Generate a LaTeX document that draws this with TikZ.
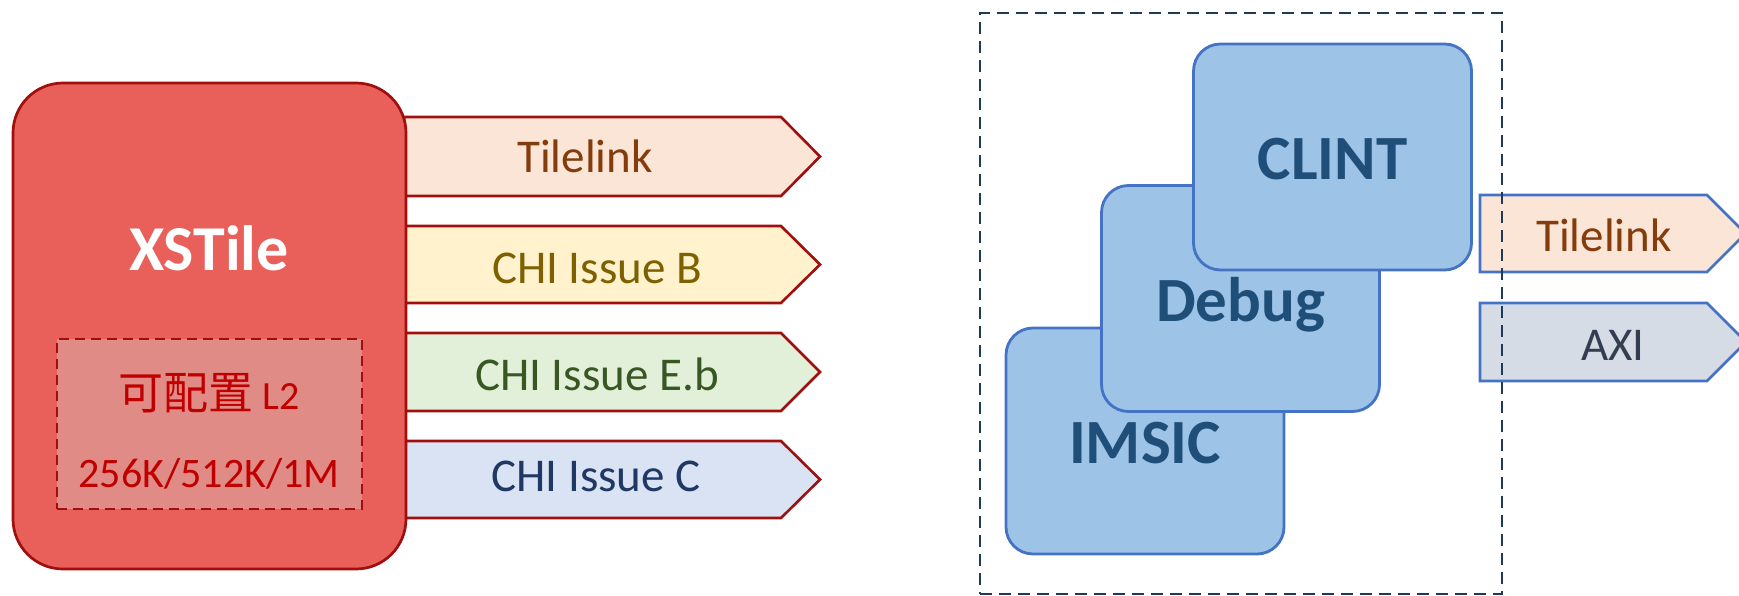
\documentclass[tikz,border=0pt]{standalone}
\usepackage{fontspec}
\setmainfont{Carlito}
\newfontfamily\cjk{Noto Sans CJK SC}
\usetikzlibrary{positioning}

\definecolor{xsfill}{HTML}{E9605B}
\definecolor{xsline}{HTML}{A10E0E}
\definecolor{l2fill}{HTML}{E08B86}
\definecolor{l2text}{HTML}{C00000}
\definecolor{tlfill}{HTML}{FBE5D6}
\definecolor{tltext}{HTML}{843C0C}
\definecolor{bfill}{HTML}{FFF2CC}
\definecolor{btext}{HTML}{7F6000}
\definecolor{ebfill}{HTML}{E2F0D9}
\definecolor{ebtext}{HTML}{385723}
\definecolor{cfill}{HTML}{DAE3F3}
\definecolor{ctext}{HTML}{203864}
\definecolor{blkfill}{HTML}{9DC3E6}
\definecolor{blkline}{HTML}{4472C4}
\definecolor{blktext}{HTML}{1F4E79}
\definecolor{axifill}{HTML}{D6DCE5}
\definecolor{axitext}{HTML}{333F50}
\definecolor{frameline}{HTML}{203A55}

\begin{document}
\begin{tikzpicture}[x=1pt, y=-1pt,
  tile/.style={draw=xsline, fill=xsfill, line width=2.7pt, rounded corners=50pt,
               minimum width=393pt, minimum height=486pt, inner sep=0pt},
  l2box/.style={draw=xsline, fill=l2fill, line width=2.6pt, dash pattern=on 10pt off 6pt,
                minimum width=305pt, minimum height=170pt, inner sep=0pt},
  redbus/.style={draw=xsline, line width=2.6pt, line join=miter},
  bluebus/.style={draw=blkline, line width=2.6pt, line join=miter},
  blk/.style={draw=blkline, fill=blkfill, line width=2.8pt, rounded corners=27pt,
              minimum width=278pt, minimum height=226pt, inner sep=0pt,
              text=blktext, font=\fontsize{63}{70}\selectfont\bfseries,
              text height=45pt, text depth=0pt},
  buslbl/.style={anchor=base, inner sep=0pt, font=\fontsize{47}{56}\selectfont}
]
\useasboundingbox (0,0) rectangle (1739,596);

% buses leaving the tile (drawn first, the tile covers their left ends)
\draw[redbus, fill=tlfill] (404,117) -- (781,117) -- (820,156.5) -- (781,196) -- (404,196) -- cycle;
\draw[redbus, fill=bfill] (404,226) -- (781,226) -- (820,264.5) -- (781,303) -- (404,303) -- cycle;
\draw[redbus, fill=ebfill] (404,333) -- (781,333) -- (820,372) -- (781,411) -- (404,411) -- cycle;
\draw[redbus, fill=cfill] (404,441) -- (781,441) -- (820,479.5) -- (781,518) -- (404,518) -- cycle;
\node[buslbl, text=tltext] (tl) at (585,173) {Tilelink};
\node[buslbl, text=btext] (chib) at (597,283) {CHI Issue B};
\node[buslbl, text=ebtext] (chieb) at (597,390) {CHI Issue E.b};
\node[buslbl, text=ctext] (chic) at (596,491) {CHI Issue C};

% the tile and its L2
\node[tile] (xstile) at (209.5,326) {};
\node[anchor=base, inner sep=0pt, text=white, font=\fontsize{64}{70}\selectfont\bfseries]
  (xstilelbl) at (209,270) {XSTile};
\node[l2box] (l2) at (209.5,424) {};
\node[anchor=base, inner sep=0pt, text=l2text, font=\fontsize{40}{48}\selectfont]
  (l2lbl) at (209,409) {{\cjk\fontsize{45}{50}\selectfont 可配置} L2};
\node[anchor=base, inner sep=0pt, text=l2text, font=\fontsize{42}{50}\selectfont]
  (l2size) at (209,487) {256K/512K/1M};

% uncore blocks
\node[blk] (imsic) at (1145,441) {IMSIC};
\node[blk] (debug) at (1240.5,298.5) {Debug};
\node[blk] (clint) at (1332.5,157) {CLINT};

\draw[bluebus, fill=tlfill] (1480,195) -- (1707,195) -- (1745.5,233.5) -- (1707,272) -- (1480,272) -- cycle;
\draw[bluebus, fill=axifill] (1480,303) -- (1707,303) -- (1746,342) -- (1707,381) -- (1480,381) -- cycle;
\node[buslbl, text=tltext] (tl2) at (1604,251) {Tilelink};
\node[buslbl, text=axitext] (axi) at (1613,360) {AXI};

% dashed frame on top
\node[draw=frameline, line width=2.8pt, dash pattern=on 12pt off 7pt,
      minimum width=522pt, minimum height=581pt, inner sep=0pt] (frame) at (1241,303.5) {};
\end{tikzpicture}
\end{document}
